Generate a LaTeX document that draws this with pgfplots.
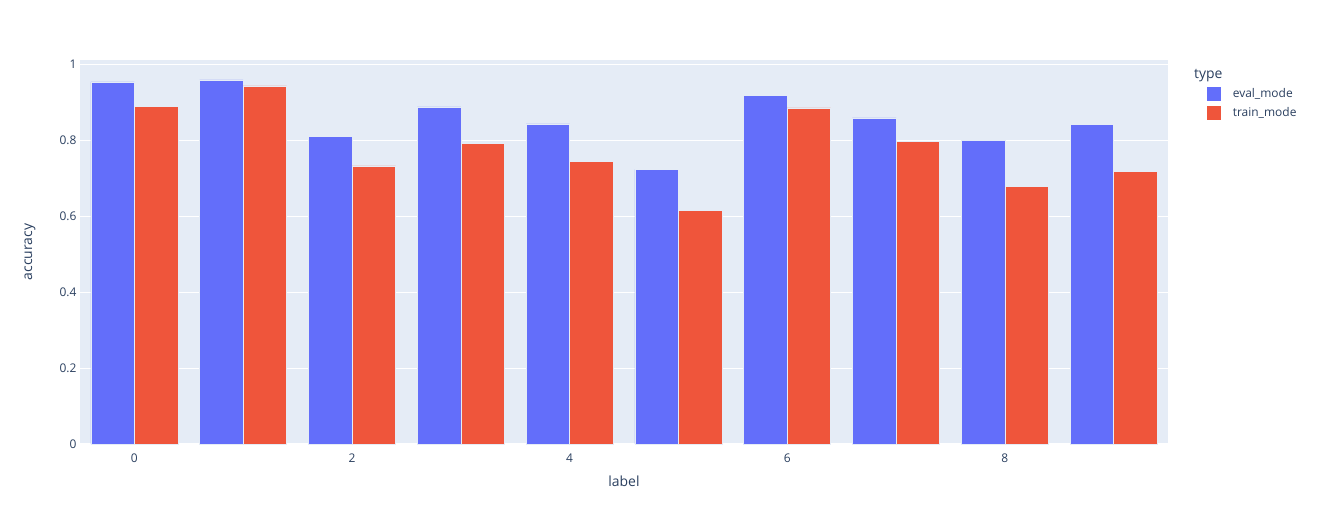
\documentclass[border=0pt]{standalone}
\usepackage{fontspec}
\setmainfont{Open Sans}
\usepackage{pgfplots}
\pgfplotsset{compat=1.18}
\definecolor{evalc}{HTML}{636EFA}
\definecolor{trainc}{HTML}{EF553B}
\definecolor{bgc}{HTML}{E5ECF6}
\definecolor{txt}{HTML}{2A3F5F}
\begin{document}
\begin{tikzpicture}
\path[use as bounding box] (0,0) rectangle (1318bp,525bp);
\begin{axis}[
  at={(80bp,81bp)}, anchor=south west,
  scale only axis, width=1088bp, height=384bp,
  xmin=-0.5, xmax=9.5, ymin=0, ymax=1.0124,
  axis line style={draw=none},
  axis background/.style={fill=bgc},
  ybar, bar width=43.52bp,
  xtick={0,2,4,6,8}, ytick={0,0.2,0.4,0.6,0.8,1},
  yticklabels={0,0.2,0.4,0.6,0.8,1},
  ymajorgrids, major grid style={white, line width=1bp},
  tick style={draw=none},
  /pgf/number format/assume math mode=true,
  ticklabel style={font=\fontsize{12}{14}\selectfont, text=txt},
  xticklabel style={yshift=-2bp},
  xlabel={label}, ylabel={accuracy},
  label style={font=\fontsize{14}{16}\selectfont, text=txt},
  xlabel style={at={(axis description cs:0.5,-0.0964)}, anchor=center},
  ylabel style={at={(axis description cs:-0.046,0.5)}, anchor=center},
  legend style={at={(axis description cs:1.036,0.932)}, anchor=north west, draw=none, fill=none,
    font=\fontsize{12}{14}\selectfont, text=txt, row sep=5bp, inner sep=0pt},
  legend cell align=left,
  clip=false,
]
\addplot[fill=evalc, draw=bgc, line width=0.5bp, bar shift=-21.76bp,
  area legend, legend image code/.code={\fill[evalc] (0bp,-6.5bp) rectangle (13bp,6.5bp); \path (23bp,0);}]
  coordinates {(0,0.955) (1,0.960) (2,0.812) (3,0.889) (4,0.844) (5,0.724) (6,0.919) (7,0.860) (8,0.801) (9,0.843)};
\addlegendentry{eval\_mode}
\addplot[fill=trainc, draw=bgc, line width=0.5bp, bar shift=21.76bp,
  area legend, legend image code/.code={\fill[trainc] (0bp,-6.5bp) rectangle (13bp,6.5bp); \path (23bp,0);}]
  coordinates {(0,0.890) (1,0.944) (2,0.733) (3,0.793) (4,0.746) (5,0.615) (6,0.886) (7,0.798) (8,0.679) (9,0.719)};
\addlegendentry{train\_mode}
\node[anchor=west, font=\fontsize{14}{16}\selectfont, text=txt, inner sep=0pt]
  at (axis description cs:1.0239,0.9596) {type};
\end{axis}
\end{tikzpicture}
\end{document}
